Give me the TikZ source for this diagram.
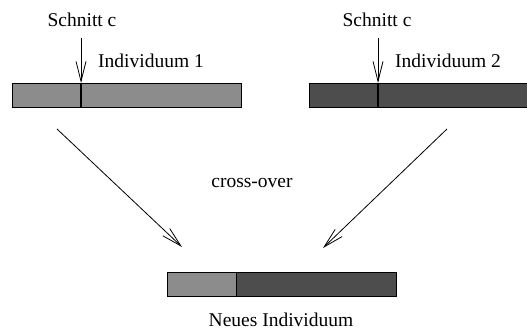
\documentclass[tikz,border=0pt]{standalone}
\usepackage{fontspec}
\setmainfont{Liberation Serif}
\usetikzlibrary{arrows.meta}
\definecolor{lightbar}{RGB}{140,140,140}
\definecolor{darkbar}{RGB}{77,77,77}
\begin{document}
\begin{tikzpicture}[x=1pt,y=-1pt,
  lbl/.style={font=\fontsize{19.5}{22}\selectfont, inner sep=0pt, anchor=base},
  barbox/.style={draw=black, line width=0.8pt, minimum height=24pt, inner sep=0pt, anchor=north west},
  cutline/.style={line width=1.6pt},
  arr/.style={line width=0.8pt, -{Straight Barb[length=20pt,width=10pt,line width=0.8pt]}}]
\useasboundingbox (0,0) rectangle (527,331);
% bar 1
\node[barbox, fill=lightbar, minimum width=229pt] (b1) at (12,83) {};
\coordinate (c1t) at (81,83);
\coordinate (c1b) at (81,107);
\draw[cutline] (c1t) -- (c1b);
% bar 2
\node[barbox, fill=darkbar, minimum width=220pt] (b2) at (309,83) {};
\coordinate (c2t) at (378,83);
\coordinate (c2b) at (378,107);
\draw[cutline] (c2t) -- (c2b);
% new bar
\node[barbox, fill=lightbar, minimum width=69pt] (n1) at (167,272) {};
\node[barbox, fill=darkbar, minimum width=160pt] (n2) at (236,272) {};
% labels
\node[lbl] (s1) at (82,27) {Schnitt c};
\node[lbl, anchor=base west] (i1) at (98,68) {Individuum 1};
\node[lbl] (s2) at (377,27) {Schnitt c};
\node[lbl, anchor=base west] (i2) at (395,68) {Individuum 2};
\node[lbl] (co) at (252,188) {cross-over};
\node[lbl] (ni) at (281,326) {Neues Individuum};
% cut arrows
\coordinate (a1s) at (81,38);
\coordinate (a2s) at (378,38);
\draw[arr] (a1s) -- (c1t);
\draw[arr] (a2s) -- (c2t);
% cross-over arrows
\coordinate (l1) at (57,129);
\coordinate (l2) at (182,247);
\coordinate (r1) at (447,129);
\coordinate (r2) at (323,248);
\draw[arr] (l1) -- (l2);
\draw[arr] (r1) -- (r2);
\end{tikzpicture}
\end{document}
